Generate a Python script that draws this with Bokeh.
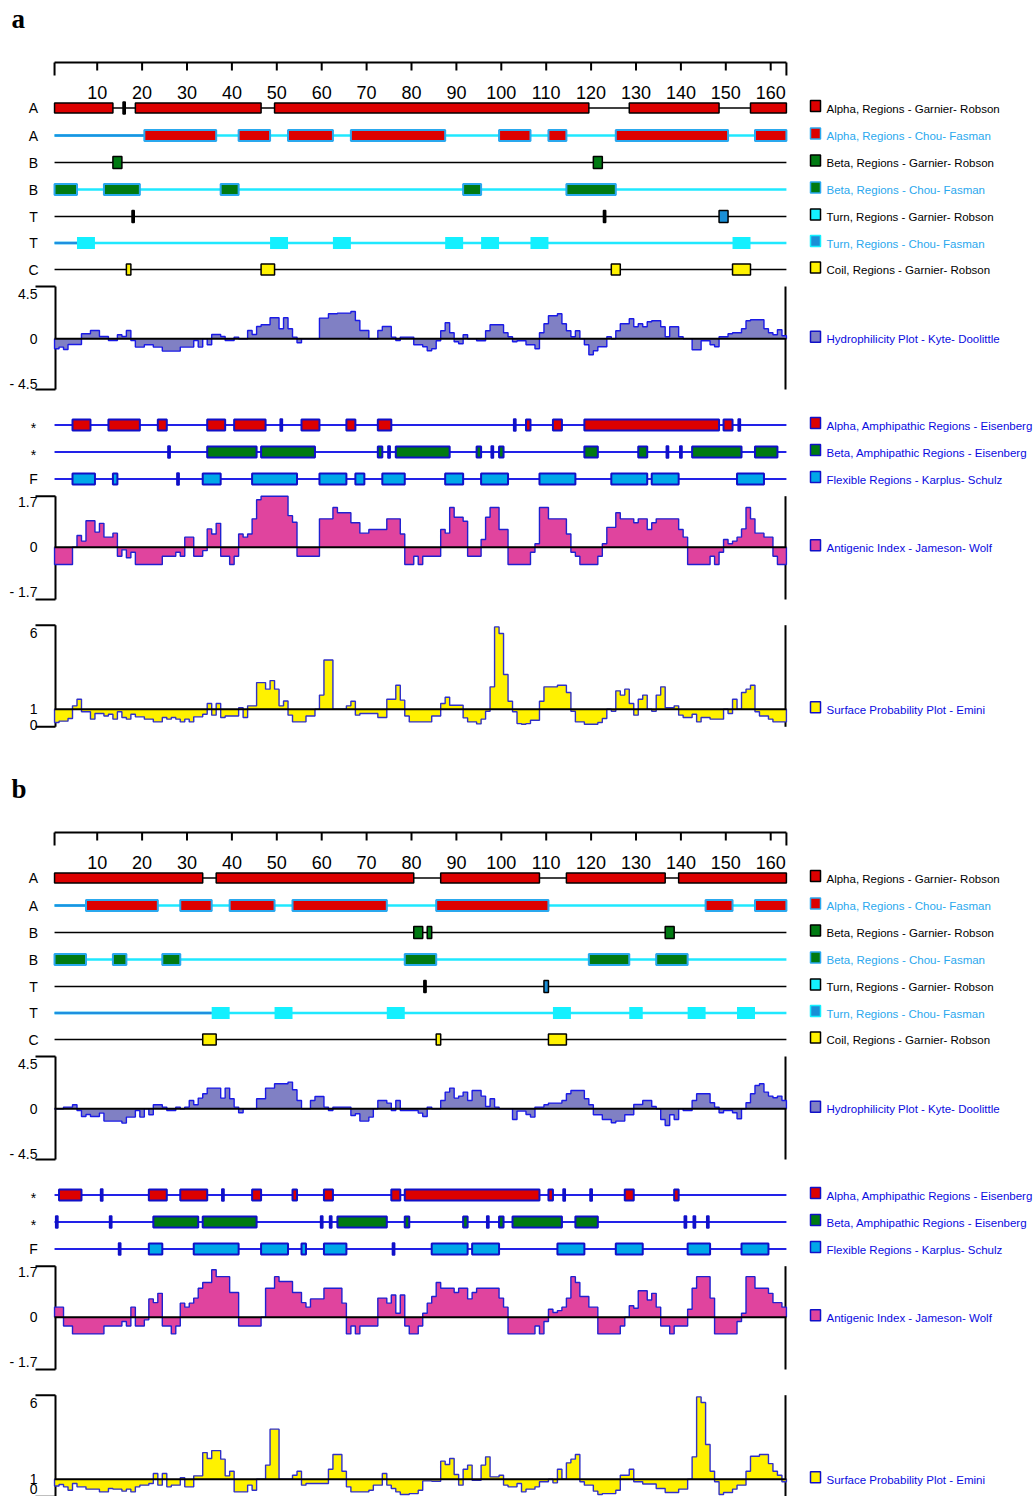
import numpy as np
from bokeh.plotting import figure
from bokeh.models import Range1d
from bokeh.core.properties import value
from bokeh.embed import file_html
from bokeh.resources import INLINE

# ------------------------------------------------------------------ data
AXIS_TICKS = [10, 20, 30, 40, 50, 60, 70, 80, 90, 100, 110, 120, 130, 140, 150, 160]
N_RES = 163

# ---- panel a : secondary-structure tracks (first residue, last residue)
A_GR_ALPHA = [(1, 13), (19, 46), (50, 119), (129, 148), (156, 163)]
A_GR_ALPHA_MARKS = [16]
A_CF_ALPHA = [(21, 36), (42, 48), (53, 62), (67, 87), (100, 106), (111, 114), (126, 150), (157, 163)]
A_GR_BETA = [(14, 15), (121, 122)]
A_CF_BETA = [(1, 5), (12, 19), (38, 41), (92, 95), (115, 125)]
A_GR_TURN = [(149, 150)]
A_GR_TURN_MARKS = [18, 123]
A_CF_TURN = [(6, 9), (49, 52), (63, 66), (88, 91), (96, 99), (107, 110), (152, 155)]
A_GR_COIL = [(17, 17), (47, 49), (125, 126), (152, 155)]
A_AMPH_ALPHA = [(5, 8), (13, 19), (24, 25), (35, 38), (41, 47), (56, 59), (66, 67), (73, 75),
                (106, 106), (112, 113), (119, 148), (150, 151)]
A_AMPH_ALPHA_MARKS = [51, 103, 153]
A_AMPH_BETA = [(35, 45), (47, 58), (73, 73), (77, 88), (95, 95), (100, 100), (119, 121),
               (131, 132), (143, 153), (157, 161)]
A_AMPH_BETA_MARKS = [26, 75, 98, 137, 140]
A_FLEX = [(5, 9), (14, 14), (34, 37), (45, 54), (60, 65), (68, 69), (74, 78), (88, 91),
          (96, 101), (109, 116), (125, 132), (134, 139), (153, 158)]
A_FLEX_MARKS = [28]

A_HYDRO = [
    -1.0, -0.83, -1.07, -0.57, -0.57, -0.57, 0.5, 0.5, 0.83, 0.83,
    0.23, 0.23, -0.17, -0.17, 0.4, 0.23, 0.83, -0.17, -0.83, -0.83,
    -0.6, -0.6, -0.83, -0.83, -1.23, -1.23, -1.23, -1.23, -0.83, -0.83,
    -0.83, -0.17, -0.83, 0.0, -0.6, 0.43, 0.43, 0.23, -0.17, -0.17,
    0.17, 0.0, 0.0, 0.83, 0.43, 1.23, 1.4, 1.4, 2.1, 2.1,
    1.0, 2.1, 1.0, 0.17, -0.4, 0.0, 0.0, 0.0, 0.0, 2.07,
    2.07, 2.5, 2.5, 2.57, 2.57, 2.57, 2.73, 1.83, 0.83, 0.83,
    0.0, 0.0, 0.83, 1.23, 1.23, 0.17, -0.17, 0.17, 0.17, 0.17,
    -0.6, -0.6, -0.8, -1.2, -1.0, -0.2, 0.8, 1.6, 0.6, -0.3,
    -0.5, 0.4, 0.0, 0.0, -0.2, -0.2, 0.8, 1.4, 1.4, 1.4,
    0.6, 0.2, -0.3, -0.2, -0.2, -0.6, -0.6, -1.0, 0.6, 1.5,
    2.3, 2.3, 2.5, 1.5, 0.8, 0.2, 0.8, 0.0, -0.6, -1.6,
    -1.2, -0.8, -0.8, 0.2, 0.0, 0.8, 1.5, 1.5, 2.0, 1.2,
    1.5, 1.2, 1.7, 1.8, 1.8, 1.2, 0.2, 1.2, 1.2, 0.2,
    0.0, 0.0, -1.1, -1.1, -0.2, -0.2, -0.6, -0.8, 0.2, 0.2,
    0.5, 0.6, 0.6, 1.0, 1.8, 1.9, 1.9, 1.9, 1.0, 0.6,
    0.4, 0.9, 0.3]

A_ANTIGENIC = [
    -0.65, -0.65, -0.65, -0.65, 0.0, 0.44, 0.23, 1.0, 1.0, 0.57,
    0.9, 0.38, 0.38, 0.53, -0.34, -0.1, -0.4, -0.19, -0.65, -0.65,
    -0.65, -0.65, -0.65, -0.65, -0.34, -0.34, -0.34, -0.19, -0.34, 0.38,
    0.38, -0.34, -0.34, -0.13, 0.69, 0.5, 0.9, -0.34, -0.34, -0.65,
    -0.34, 0.5, 0.38, 0.5, 1.07, 1.79, 1.92, 1.92, 1.92, 1.92,
    1.92, 1.92, 1.19, 0.94, -0.34, -0.34, -0.34, -0.34, -0.34, 1.07,
    1.07, 1.07, 1.5, 1.3, 1.3, 1.3, 0.92, 0.92, 0.53, 0.53,
    0.67, 0.67, 0.67, 0.67, 1.07, 1.07, 1.07, 0.5, -0.65, -0.65,
    -0.34, -0.65, -0.34, -0.34, -0.34, -0.34, 0.67, 0.53, 1.5, 1.13,
    1.13, 0.98, -0.34, -0.34, -0.34, 0.29, 1.13, 1.5, 1.5, 0.67,
    0.67, -0.65, -0.65, -0.65, -0.65, -0.65, -0.19, 0.13, 1.5, 1.5,
    1.07, 1.07, 1.07, 1.07, 0.5, -0.19, -0.34, -0.65, -0.65, -0.65,
    -0.65, -0.34, 0.13, 0.75, 0.75, 1.3, 1.07, 1.07, 1.07, 0.92,
    1.07, 1.07, 0.67, 0.92, 1.07, 1.07, 1.07, 1.07, 1.07, 0.67,
    0.38, -0.65, -0.65, -0.65, -0.65, -0.65, -0.34, -0.65, -0.19, 0.29,
    0.13, 0.23, 0.38, 0.69, 1.5, 1.07, 0.53, 0.53, 0.38, 0.38,
    -0.34, -0.65, -0.65]

A_SURFACE = [
    0.13, 0.22, 0.22, 0.39, 1.22, 1.65, 0.83, 0.83, 0.35, 0.72,
    0.72, 0.56, 0.67, 0.35, 0.83, 0.46, 0.35, 0.67, 0.5, 0.5,
    0.35, 0.35, 0.17, 0.17, 0.46, 0.35, 0.46, 0.35, 0.17, 0.35,
    0.17, 0.5, 0.5, 0.67, 1.37, 0.61, 1.37, 0.46, 0.56, 0.56,
    0.56, 1.09, 0.46, 1.22, 1.22, 2.74, 2.74, 2.31, 2.87, 2.31,
    1.22, 1.54, 0.61, 0.17, 0.17, 0.17, 0.56, 0.56, 1.0, 1.92,
    4.22, 4.22, 1.0, 1.0, 1.0, 1.22, 1.52, 0.61, 0.72, 0.72,
    0.72, 0.72, 0.46, 0.46, 1.65, 1.65, 2.57, 1.59, 0.56, 0.17,
    0.17, 0.17, 0.17, 0.17, 0.56, 0.56, 1.37, 1.78, 1.26, 1.26,
    1.26, 0.43, 0.17, 0.17, 0.04, 0.35, 0.87, 2.46, 6.38, 5.95,
    3.27, 1.52, 0.83, 0.06, 0.02, 0.06, 0.28, 0.28, 1.52, 2.46,
    2.46, 2.46, 2.57, 2.57, 2.09, 0.87, 0.17, 0.17, 0.02, 0.02,
    0.02, 0.13, 0.39, 1.0, 0.87, 2.2, 1.92, 2.31, 1.37, 0.61,
    1.65, 1.92, 1.0, 0.87, 1.92, 2.46, 1.09, 1.09, 1.22, 0.61,
    0.46, 0.46, 0.67, 0.17, 0.46, 0.46, 0.35, 0.35, 0.35, 1.0,
    0.72, 1.65, 1.0, 2.09, 2.31, 2.57, 0.83, 0.56, 0.56, 0.35,
    0.17, 0.17, 0.17]

# ---- panel b
B_GR_ALPHA = [(1, 33), (37, 80), (87, 108), (115, 136), (140, 163)]
B_GR_ALPHA_MARKS = []
B_CF_ALPHA = [(8, 23), (29, 35), (40, 49), (54, 74), (86, 110), (146, 151), (157, 163)]
B_GR_BETA = [(81, 82), (84, 84), (137, 138)]
B_CF_BETA = [(1, 7), (14, 16), (25, 28), (79, 85), (120, 128), (135, 141)]
B_GR_TURN = [(110, 110)]
B_GR_TURN_MARKS = [83]
B_CF_TURN = [(36, 39), (50, 53), (75, 78), (112, 115), (129, 131), (142, 145), (153, 156)]
B_GR_COIL = [(34, 36), (86, 86), (111, 114)]
B_AMPH_ALPHA = [(2, 6), (22, 25), (29, 34), (45, 46), (54, 54), (61, 62), (76, 77), (79, 108),
                (111, 111), (128, 129), (139, 139)]
B_AMPH_ALPHA_MARKS = [11, 38, 114, 120]
B_AMPH_BETA = [(23, 32), (34, 45), (64, 74), (79, 79), (92, 92), (100, 100), (103, 113), (117, 121)]
B_AMPH_BETA_MARKS = [1, 13, 60, 62, 97, 141, 143, 146]
B_FLEX = [(22, 24), (32, 41), (47, 52), (56, 56), (61, 65), (85, 92), (94, 99), (113, 118),
          (126, 131), (142, 146), (154, 159)]
B_FLEX_MARKS = [15, 76]

B_HYDRO = [
    0.0, 0.0, 0.17, 0.17, 0.4, -0.17, -0.77, -0.57, -0.77, -0.77,
    -0.43, -1.23, -1.23, -1.23, -1.23, -1.43, -0.83, -0.83, -0.17, -0.83,
    0.0, -0.6, 0.4, 0.4, 0.17, -0.17, -0.17, 0.17, 0.0, 0.17,
    0.83, 0.4, 1.07, 1.5, 2.07, 2.07, 2.07, 1.07, 2.07, 1.0,
    0.17, -0.4, 0.0, 0.0, 0.0, 1.0, 1.0, 2.07, 2.07, 2.5,
    2.5, 2.5, 2.67, 1.9, 0.83, 0.0, 0.0, 0.83, 1.23, 1.23,
    0.17, -0.17, 0.17, 0.17, 0.17, 0.17, -0.67, -0.5, -1.23, -1.23,
    -0.83, 0.0, 0.83, 0.83, 0.57, -0.17, 0.83, -0.17, -0.17, -0.17,
    -0.17, -0.43, -0.77, 0.17, 0.0, 0.0, 0.83, 1.67, 2.07, 1.07,
    1.27, 1.67, 0.83, 1.83, 1.83, 1.27, 0.23, 1.0, 0.17, 0.0,
    0.0, 0.0, -1.07, -0.23, -0.23, -0.57, -0.83, 0.17, 0.17, 0.4,
    0.57, 0.57, 0.57, 0.83, 1.5, 1.83, 1.83, 1.83, 1.0, 0.4,
    -0.6, -0.6, -1.07, -1.07, -1.4, -1.23, -1.23, -0.6, -0.6, 0.43,
    0.43, 0.83, 0.83, 0.23, 0.0, -1.07, -1.67, -0.6, -1.07, 0.0,
    -0.17, -0.17, 0.83, 1.5, 1.5, 1.5, 0.6, 0.17, -0.4, -0.17,
    -0.17, -0.4, -1.0, 0.0, 0.6, 1.5, 2.33, 2.5, 1.67, 1.27,
    1.1, 1.27, 0.83]

B_ANTIGENIC = [
    0.38, 0.38, -0.33, -0.33, -0.63, -0.63, -0.63, -0.63, -0.63, -0.63,
    -0.63, -0.33, -0.33, -0.33, -0.33, -0.16, -0.33, 0.38, -0.33, -0.33,
    -0.1, 0.69, 0.55, 0.9, -0.33, -0.33, -0.63, -0.33, 0.53, 0.38,
    0.53, 0.72, 1.09, 1.31, 1.31, 1.79, 1.53, 1.53, 1.53, 0.93,
    0.93, -0.33, -0.33, -0.33, -0.33, -0.33, 0.0, 1.09, 1.09, 1.53,
    1.35, 1.35, 1.35, 0.93, 0.93, 0.55, 0.38, 0.69, 0.69, 0.69,
    1.09, 1.09, 1.09, 1.09, 0.53, -0.63, -0.33, -0.63, -0.33, -0.33,
    -0.33, -0.33, 0.72, 0.72, 0.53, 0.84, 0.15, 0.84, -0.33, -0.63,
    -0.63, -0.33, 0.15, 0.53, 0.78, 1.31, 1.09, 1.09, 1.09, 0.93,
    1.09, 1.09, 0.69, 0.93, 1.09, 1.09, 1.09, 1.09, 1.09, 0.72,
    0.38, -0.63, -0.63, -0.63, -0.63, -0.63, -0.63, -0.33, -0.63, -0.16,
    0.3, 0.18, 0.25, 0.38, 0.72, 1.53, 1.31, 0.78, 0.78, 0.38,
    0.38, -0.63, -0.63, -0.63, -0.63, -0.63, -0.33, 0.0, 0.43, 0.34,
    1.0, 1.0, 0.65, 0.9, 0.38, -0.33, -0.33, -0.63, -0.33, -0.33,
    -0.33, 0.3, 1.09, 1.53, 1.53, 1.53, 0.72, -0.63, -0.63, -0.63,
    -0.63, -0.63, -0.16, 0.15, 1.53, 1.53, 1.09, 1.09, 1.09, 0.9,
    0.55, 0.55, 0.38]

B_SURFACE = [
    0.56, 0.65, 0.5, 0.28, 0.72, 0.5, 0.5, 0.35, 0.35, 0.35,
    0.17, 0.17, 0.39, 0.35, 0.35, 0.22, 0.35, 0.17, 0.5, 0.61,
    0.61, 0.72, 1.37, 0.61, 1.37, 0.5, 0.61, 0.61, 1.09, 0.5,
    0.5, 1.22, 1.22, 2.74, 2.35, 2.87, 2.87, 2.31, 1.22, 1.52,
    0.17, 0.17, 0.17, 0.61, 0.28, 1.0, 1.0, 1.92, 4.27, 4.27,
    1.0, 1.0, 1.0, 1.26, 1.52, 0.61, 0.72, 0.72, 0.72, 0.72,
    0.72, 1.65, 2.61, 2.61, 1.52, 0.5, 0.17, 0.17, 0.17, 0.17,
    0.28, 0.61, 0.61, 1.37, 0.61, 0.39, 0.17, 0.0, 0.0, 0.06,
    0.06, 0.28, 0.89, 0.89, 0.87, 0.87, 2.18, 1.96, 2.35, 1.31,
    0.61, 1.65, 1.92, 0.93, 0.93, 1.92, 2.46, 1.15, 1.15, 1.26,
    0.61, 0.5, 0.5, 0.72, 0.17, 0.35, 0.35, 0.5, 0.83, 0.83,
    1.0, 0.76, 1.65, 1.0, 2.07, 2.31, 2.61, 0.83, 0.61, 0.61,
    0.22, 0.0, 0.06, 0.06, 0.06, 0.28, 1.26, 1.26, 1.65, 0.83,
    0.83, 0.69, 0.69, 0.69, 0.39, 0.39, 0.13, 0.13, 0.13, 0.35,
    0.35, 1.0, 2.46, 6.38, 6.01, 3.27, 1.52, 0.83, 0.0, 0.13,
    0.13, 0.35, 0.61, 0.61, 1.52, 2.5, 2.5, 2.61, 2.61, 2.02,
    1.52, 1.26, 0.83]

TRACK_LABELS = ["A", "A", "B", "B", "T", "T", "C"]
MID_LABELS = ["*", "*", "F"]
HYD_TICKS, HYD_TICK_TEXT = [4.5, 0, -4.5], ["4.5", "0", "- 4.5"]
ANT_TICKS, ANT_TICK_TEXT = [1.7, 0, -1.7], ["1.7", "0", "- 1.7"]
SUR_TICKS, SUR_TICK_TEXT = [6, 1, 0], ["6", "1", "0"]
LEGEND_TEXT = [
    "Alpha, Regions -  Garnier- Robson",
    "Alpha, Regions -  Chou- Fasman",
    "Beta, Regions -  Garnier- Robson",
    "Beta, Regions -  Chou- Fasman",
    "Turn, Regions -  Garnier- Robson",
    "Turn, Regions -  Chou- Fasman",
    "Coil, Regions -  Garnier- Robson",
    "Hydrophilicity Plot -  Kyte- Doolittle",
    "Alpha, Amphipathic Regions -  Eisenberg",
    "Beta, Amphipathic Regions -  Eisenberg",
    "Flexible Regions -  Karplus- Schulz",
    "Antigenic Index -  Jameson- Wolf",
    "Surface Probability Plot -  Emini",
]

# ------------------------------------------------------------------ style / layout
W, H = 1035, 1496
X0, S = 51.8, 4.49          # pixel of residue 0, pixels per residue
DY = 770                    # vertical offset of panel b
FONT = "Liberation Sans"
RED, GREEN, YELLOW = "#DD0000", "#007A12", "#FFF200"
CF_EDGE, CF_LINE, CF_DARK = "#2AA8EE", "#1FE8FF", "#1E90E0"
BLUE_LINE, BLUE_EDGE = "#2222E8", "#1010C8"

p = figure(width=W, height=H, x_range=Range1d(0, W), y_range=Range1d(H, 0),
           output_backend="svg", toolbar_location=None, min_border=0,
           x_axis_type=None, y_axis_type=None)
p.grid.visible = False
p.outline_line_color = None
p.background_fill_color = "white"

xr = {"res": Range1d((0 - X0) / S, (W - X0) / S)}
yr = {}


def yrange(name, zero_row, k, zero_value=0.0):
    yr[name] = Range1d(zero_value + (zero_row - H) / k, zero_value + zero_row / k)


LO, HI = 0.5, N_RES + 0.5


def track_line(row, color, width):
    p.segment(x0=[LO], x1=[HI], y0=[row], y1=[row], x_range_name="res",
              line_color=color, line_width=width)


def boxes(row, ivals, half, fill, edge, ew):
    if not ivals:
        return
    p.quad(left=[a - 0.5 for a, b in ivals], right=[b + 0.5 for a, b in ivals],
           top=[row - half] * len(ivals), bottom=[row + half] * len(ivals),
           x_range_name="res", fill_color=fill, line_color=edge, line_width=ew)


def marks(row, pos, half, color):
    if not pos:
        return
    p.quad(left=[m - 0.25 for m in pos], right=[m + 0.25 for m in pos],
           top=[row - half] * len(pos), bottom=[row + half] * len(pos),
           x_range_name="res", fill_color=color, line_color=color, line_width=1.5)


def profile(vals, base, name, fill, edge):
    r = np.arange(1, len(vals) + 1)
    xs = np.column_stack([r - 0.5, r + 0.5]).ravel()
    ys = np.repeat(np.asarray(vals, dtype=float), 2)
    p.varea(x=xs, y1=np.full_like(ys, base), y2=ys, x_range_name="res", y_range_name=name,
            fill_color=fill)
    p.line(x=np.r_[xs[0], xs, xs[-1]], y=np.r_[base, ys, base], x_range_name="res",
           y_range_name=name, line_color=edge, line_width=1.4)
    p.segment(x0=[LO], x1=[HI], y0=[base], y1=[base], x_range_name="res", y_range_name=name,
              line_color="black", line_width=2)


def frame_axis(top, bottom, ticks, texts, zero_row, k, zero_value=0.0):
    p.segment(x0=[55, 35, 35, 785], x1=[55, 55, 55, 785], y0=[top, top, bottom, top],
              y1=[bottom, top, bottom, bottom], line_color="black", line_width=2)
    # tick-label rows from the value scale, kept inside the page
    rows = [min(zero_row - k * (t - zero_value), H - 8) for t in ticks]
    p.text(x=[37] * len(ticks), y=rows, text=texts,
           text_font=value(FONT), text_font_size="14px", text_align="right",
           text_baseline="middle", text_color="black")


def panel(dy, tag, d):
    # panel letter
    p.text(x=[11], y=[18 + dy], text=[tag], text_font=value("Liberation Serif"),
           text_font_style="bold", text_font_size="27px", text_baseline="middle")
    # residue axis
    ay = 62 + dy
    p.segment(x0=[LO], x1=[HI], y0=[ay], y1=[ay], x_range_name="res", line_color="black",
              line_width=2)
    p.segment(x0=AXIS_TICKS, x1=AXIS_TICKS, y0=[ay] * len(AXIS_TICKS),
              y1=[ay + 8] * len(AXIS_TICKS), x_range_name="res", line_color="black", line_width=2)
    p.segment(x0=[LO, HI], x1=[LO, HI], y0=[ay, ay], y1=[ay + 13, ay + 13], x_range_name="res",
              line_color="black", line_width=2)
    p.text(x=AXIS_TICKS, y=[92 + dy] * len(AXIS_TICKS), text=[str(t) for t in AXIS_TICKS],
           x_range_name="res", text_font=value(FONT), text_font_size="18px",
           text_align="center", text_baseline="middle", text_color="black")

    rows = [107.5 + dy, 135 + dy, 162 + dy, 189 + dy, 216 + dy, 242.5 + dy, 269 + dy]
    p.text(x=[33] * 7, y=rows, text=TRACK_LABELS, text_font=value(FONT),
           text_font_size="14px", text_align="center", text_baseline="middle")

    # Garnier-Robson alpha
    track_line(rows[0], "black", 1.5)
    boxes(rows[0], d["gr_alpha"], 5, RED, "black", 1.5)
    marks(rows[0], d["gr_alpha_m"], 6, "black")
    # Chou-Fasman alpha
    track_line(rows[1], CF_LINE, 2.5)
    first = d["cf_alpha"][0][0]
    if first > 1:
        p.segment(x0=[LO], x1=[first - 0.5], y0=[rows[1]], y1=[rows[1]], x_range_name="res",
                  line_color=CF_DARK, line_width=2.5)
    boxes(rows[1], d["cf_alpha"], 5.5, RED, CF_EDGE, 2)
    # beta
    track_line(rows[2], "black", 1.5)
    boxes(rows[2], d["gr_beta"], 6, GREEN, "black", 1.5)
    track_line(rows[3], CF_LINE, 2.5)
    boxes(rows[3], d["cf_beta"], 5.5, GREEN, CF_EDGE, 2)
    # turn
    track_line(rows[4], "black", 1.5)
    boxes(rows[4], d["gr_turn"], 6, "#1A8FD6", "black", 1.5)
    marks(rows[4], d["gr_turn_m"], 6, "black")
    track_line(rows[5], CF_LINE, 2.5)
    first = d["cf_turn"][0][0]
    if first > 1:
        p.segment(x0=[LO], x1=[first - 0.5], y0=[rows[5]], y1=[rows[5]], x_range_name="res",
                  line_color=CF_DARK, line_width=2.5)
    boxes(rows[5], d["cf_turn"], 6, "#14F0FF", None, 0)
    # coil
    track_line(rows[6], "black", 1.5)
    boxes(rows[6], d["gr_coil"], 5.5, YELLOW, "black", 1.5)

    # hydrophilicity
    hz = 338.3 + dy
    yrange(tag + "hyd", hz, 10.0)
    frame_axis(286 + dy, 389 + dy, HYD_TICKS, HYD_TICK_TEXT, hz, 10.0)
    profile(d["hyd"], 0.0, tag + "hyd", "#8080C4", "#1A1AE6")

    # amphipathic / flexible tracks
    mrows = [424.5 + dy, 451.5 + dy, 478.5 + dy]
    p.text(x=[33] * 3, y=[mrows[0] + 3, mrows[1] + 3, mrows[2]], text=MID_LABELS,
           text_font=value(FONT), text_font_size="14px", text_align="center",
           text_baseline="middle")
    for r_, key, fill in zip(mrows, ["amph_a", "amph_b", "flex"], [RED, GREEN, "#00A8E8"]):
        track_line(r_, BLUE_LINE, 2)
        boxes(r_, d[key], 5.5, fill, BLUE_EDGE, 2)
        marks(r_, d[key + "_m"], 6, BLUE_EDGE)

    # antigenic index
    az = 546.7 + dy
    yrange(tag + "ant", az, 26.5)
    frame_axis(495.7 + dy, 599 + dy, ANT_TICKS, ANT_TICK_TEXT, az, 26.5)
    profile(d["ant"], 0.0, tag + "ant", "#E0449E", "#2020D0")

    # surface probability
    sb = 708.7 + dy
    yrange(tag + "sur", sb, 15.3, 1.0)
    frame_axis(624.7 + dy, 726.3 + dy, SUR_TICKS, SUR_TICK_TEXT, sb, 15.3, 1.0)
    profile(d["sur"], 1.0, tag + "sur", YELLOW, "#3030C8")

    # legend
    lrows = rows + [hz] + mrows + [az, sb]
    fills = [RED, RED, GREEN, GREEN, "#14F0FF", "#1A8FD6", YELLOW, "#8080C4",
             RED, GREEN, "#00A8E8", "#E0449E", YELLOW]
    edges = ["black", CF_EDGE, "black", CF_EDGE, "black", "#14F0FF", "black",
             BLUE_EDGE, BLUE_EDGE, BLUE_EDGE, BLUE_EDGE, BLUE_EDGE, BLUE_EDGE]
    tcols = ["black", CF_EDGE, "black", CF_EDGE, "black", CF_EDGE, "black"] + ["#0A0AE0"] * 6
    p.quad(left=[810] * 13, right=[820] * 13, top=[r_ - 7.5 for r_ in lrows],
           bottom=[r_ + 3.5 for r_ in lrows], fill_color=fills, line_color=edges, line_width=1.5)
    p.text(x=[826] * 13, y=[r_ + 0.5 for r_ in lrows], text=LEGEND_TEXT, text_color=tcols,
           text_font=value(FONT), text_font_size="11.5px", text_align="left",
           text_baseline="middle")


panel(0, "a", dict(gr_alpha=A_GR_ALPHA, gr_alpha_m=A_GR_ALPHA_MARKS, cf_alpha=A_CF_ALPHA,
                   gr_beta=A_GR_BETA, cf_beta=A_CF_BETA, gr_turn=A_GR_TURN,
                   gr_turn_m=A_GR_TURN_MARKS, cf_turn=A_CF_TURN, gr_coil=A_GR_COIL,
                   amph_a=A_AMPH_ALPHA, amph_a_m=A_AMPH_ALPHA_MARKS,
                   amph_b=A_AMPH_BETA, amph_b_m=A_AMPH_BETA_MARKS,
                   flex=A_FLEX, flex_m=A_FLEX_MARKS,
                   hyd=A_HYDRO, ant=A_ANTIGENIC, sur=A_SURFACE))
panel(DY, "b", dict(gr_alpha=B_GR_ALPHA, gr_alpha_m=B_GR_ALPHA_MARKS, cf_alpha=B_CF_ALPHA,
                    gr_beta=B_GR_BETA, cf_beta=B_CF_BETA, gr_turn=B_GR_TURN,
                    gr_turn_m=B_GR_TURN_MARKS, cf_turn=B_CF_TURN, gr_coil=B_GR_COIL,
                    amph_a=B_AMPH_ALPHA, amph_a_m=B_AMPH_ALPHA_MARKS,
                    amph_b=B_AMPH_BETA, amph_b_m=B_AMPH_BETA_MARKS,
                    flex=B_FLEX, flex_m=B_FLEX_MARKS,
                    hyd=B_HYDRO, ant=B_ANTIGENIC, sur=B_SURFACE))

p.extra_x_ranges = xr
p.extra_y_ranges = yr

open("out.html", "w").write(file_html(p, INLINE))
